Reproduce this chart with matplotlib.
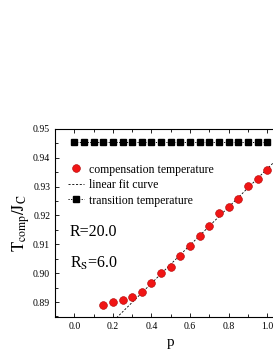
import numpy as np
import matplotlib
matplotlib.use("Agg")
import matplotlib.pyplot as plt
from matplotlib.ticker import MultipleLocator

plt.rcParams['font.family'] = ['Liberation Serif', 'DejaVu Serif']
plt.rcParams['mathtext.fontset'] = 'stix'

p_comp = [0.15, 0.20, 0.25, 0.30, 0.35, 0.40, 0.45, 0.50, 0.55, 0.60, 0.65,
          0.70, 0.75, 0.80, 0.85, 0.90, 0.95, 1.00]
t_comp = [0.8889, 0.8899, 0.8906, 0.8916, 0.8935, 0.8967, 0.9002, 0.9020,
          0.9060, 0.9095, 0.9129, 0.9164, 0.9208, 0.9231, 0.9257, 0.9301,
          0.9328, 0.9358]
p_trans = [0.00, 0.05, 0.10, 0.15, 0.20, 0.25, 0.30, 0.35, 0.40, 0.45, 0.50,
           0.55, 0.60, 0.65, 0.70, 0.75, 0.80, 0.85, 0.90, 0.95, 1.00]
t_trans = [0.9455] * len(p_trans)

fig = plt.figure(figsize=(2.73, 3.53), dpi=100)
ax = fig.add_axes([0.2015, 0.1028, 0.848, 0.5318])

# linear fit over the linear region
pc = np.array(p_comp)
tc = np.array(t_comp)
mask = pc >= 0.35
k, b = np.polyfit(pc[mask], tc[mask], 1)
pf = np.linspace(0.15, 1.1, 50)

ax.plot(p_comp, t_comp, 'o', color='#f01515', mec='#b00000', mew=0.4, ms=5.6,
        label='compensation temperature', zorder=3)
ax.plot(pf, k * pf + b, color='black', lw=0.6, dashes=(2.5, 2),
        label='linear fit curve', zorder=2)
ax.plot(p_trans, t_trans, color='black', marker='s', ms=4.2, lw=0.7,
        dashes=(1.2, 1.5), label='transition temperature', zorder=3)

ax.set_xlim(-0.1, 1.1)
ax.set_ylim(0.8849, 0.95)
ax.xaxis.set_minor_locator(MultipleLocator(0.1))
ax.yaxis.set_minor_locator(MultipleLocator(0.005))
ax.tick_params(which='both', direction='in', top=True, right=True,
               labelsize=7, width=0.6)
ax.tick_params(which='major', length=3)
ax.tick_params(which='minor', length=2)
ax.set_yticks([0.89, 0.90, 0.91, 0.92, 0.93, 0.94, 0.95])
ax.set_yticklabels(['0.89', '0.90', '0.91', '0.92', '0.93', '0.94', '0.95'])
ax.set_xticks([0.0, 0.2, 0.4, 0.6, 0.8, 1.0])
ax.set_xticklabels(['0.0', '0.2', '0.4', '0.6', '0.8', '1.0'])
for s in ax.spines.values():
    s.set_linewidth(0.8)

ax.set_xlabel('p', fontsize=11, labelpad=4)
ax.set_ylabel(r'$\mathrm{T_{comp}/J_C}$', fontsize=12, labelpad=1)

leg = ax.legend(loc='upper left', bbox_to_anchor=(0.02, 0.86), frameon=False,
                fontsize=8.5, handlelength=1.4, handletextpad=0.4,
                labelspacing=0.3, borderaxespad=0.3)

ax.text(0.065, 0.45, 'R=20.0', transform=ax.transAxes, fontsize=11.5,
        va='center', ha='left')
ax.text(0.065, 0.285, r'R$_{\mathrm{S}}$=6.0', transform=ax.transAxes,
        fontsize=11.5, va='center', ha='left')

fig.savefig('out.png', dpi=100)
